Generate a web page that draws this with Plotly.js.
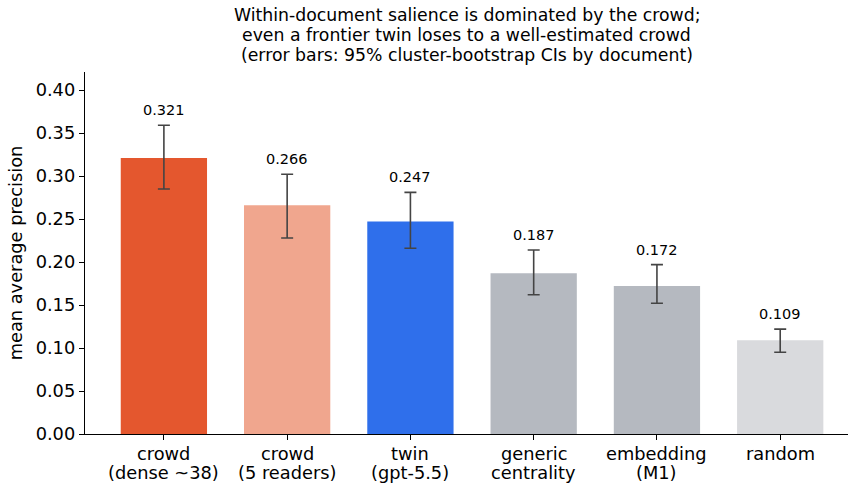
<!DOCTYPE html>
<html><head><meta charset="utf-8">
<script src="https://cdn.plot.ly/plotly-3.0.1.min.js"></script>
<style>body{margin:0}#c{width:849px;height:484px}</style>
</head><body><div id="c"></div>
<script>
const categoryLine1 = ["crowd", "crowd", "twin", "generic", "embedding", "random"];
const categoryLine2 = ["(dense ~38)", "(5 readers)", "(gpt-5.5)", "centrality", "(M1)", ""];
const values = [0.321, 0.266, 0.247, 0.187, 0.172, 0.109];
const ciLow = [0.285, 0.228, 0.216, 0.162, 0.152, 0.095];
const ciHigh = [0.359, 0.302, 0.281, 0.214, 0.197, 0.122];
const labels = ["0.321", "0.266", "0.247", "0.187", "0.172", "0.109"];
const colors = ["#E4572E", "#F0A68E", "#2F6FEB", "#B5B9C0", "#B5B9C0", "#D9DADD"];
const titleLines = ["Within-document salience is dominated by the crowd;",
  "even a frontier twin loses to a well-estimated crowd",
  "(error bars: 95% cluster-bootstrap CIs by document)"];

const x = categoryLine1.map((_, i) => i);
const trace = {
  type: "bar", x: x, y: values, width: 0.7,
  marker: {color: colors, line: {width: 0}},
  error_y: {type: "data", symmetric: false,
    array: ciHigh.map((h, i) => h - values[i]),
    arrayminus: values.map((v, i) => v - ciLow[i]),
    color: "#444444", thickness: 1.6, width: 6},
  hoverinfo: "none"
};
const annotations = x.map((xi, i) => ({
  x: xi, y: ciHigh[i], text: labels[i], showarrow: false,
  yanchor: "bottom", yshift: 5, font: {size: 14.5, color: "#000"}
}));
titleLines.forEach((t, i) => annotations.push({
  xref: "paper", yref: "paper", x: 0.5, y: 1, yanchor: "middle", yshift: 57 - 20 * i,
  text: t, showarrow: false, font: {size: 17.3, color: "#000"}
}));
x.forEach((xi, i) => {
  annotations.push({xref: "x", yref: "paper", x: xi, y: 0, yanchor: "middle", yshift: -19,
    text: categoryLine1[i], showarrow: false, font: {size: 17.8, color: "#000"}});
  if (categoryLine2[i]) annotations.push({xref: "x", yref: "paper", x: xi, y: 0, yanchor: "middle", yshift: -38,
    text: categoryLine2[i], showarrow: false, font: {size: 17.8, color: "#000"}});
});
const layout = {
  width: 849, height: 484,
  margin: {l: 85, r: 1, t: 72, b: 50},
  paper_bgcolor: "white", plot_bgcolor: "white",
  font: {family: "DejaVu Sans", color: "#000"},
  xaxis: {range: [-0.64, 5.55], tickvals: x, showticklabels: false,
    showgrid: false, zeroline: false, showline: true, linecolor: "#000", linewidth: 1.2,
    ticks: "outside", ticklen: 5, tickcolor: "#000"},
  yaxis: {range: [0, 0.421], tickvals: [0,0.05,0.1,0.15,0.2,0.25,0.3,0.35,0.4],
    ticktext: ["0.00","0.05","0.10","0.15","0.20","0.25","0.30","0.35","0.40"],
    showgrid: false, zeroline: false, showline: true, linecolor: "#000", linewidth: 1.2,
    ticks: "outside", ticklen: 5, tickcolor: "#000", tickfont: {size: 17.8},
    title: {text: "mean average precision", font: {size: 17.8}, standoff: 8}},
  annotations: annotations,
  showlegend: false, bargap: 0.3
};
Plotly.newPlot("c", [trace], layout, {staticPlot: true, displayModeBar: false});
</script></body></html>
